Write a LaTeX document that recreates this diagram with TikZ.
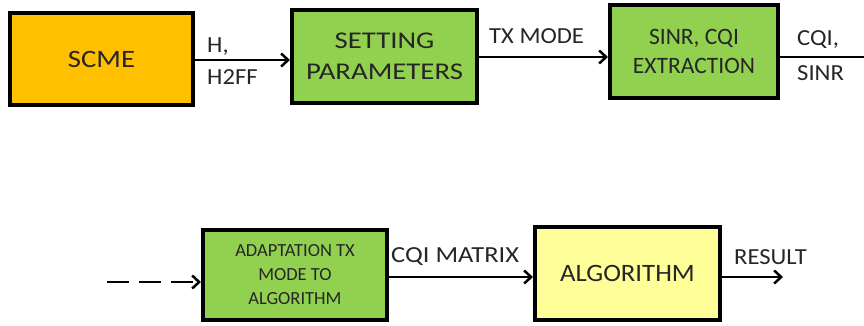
\documentclass[tikz,border=0pt]{standalone}
\usepackage{fontspec}
\setmainfont{Carlito}
\newfontfamily\fA[FakeStretch=1.07]{Carlito}
\newfontfamily\fB[FakeStretch=1.15]{Carlito}
\newfontfamily\fC[FakeStretch=1.2]{Carlito}
\usetikzlibrary{arrows.meta}
\definecolor{orangefill}{HTML}{FFC000}
\definecolor{greenfill}{HTML}{92D050}
\definecolor{yellowfill}{HTML}{FFFF99}
\definecolor{txt}{HTML}{262626}
\begin{document}
\begin{tikzpicture}[x=1pt,y=-1pt,
  blk/.style={draw=black,line width=4pt,inner sep=0pt,align=center,text=txt},
  lbl/.style={inner sep=0pt,text=txt,font=\fA\fontsize{23}{25}\selectfont},
  conn/.style={line width=2.5pt,-{Straight Barb[length=7pt,width=13pt,line width=2.5pt]}}]
\useasboundingbox (0,0) rectangle (864,325);
\node[blk,fill=orangefill,minimum width=183pt,minimum height=92pt,font=\fB\fontsize{25}{28}\selectfont] (scme) at (101.5,59) {SCME};
\node[blk,fill=greenfill,minimum width=185pt,minimum height=93pt,font=\fC\fontsize{24}{31}\selectfont] (set) at (384.5,56.5) {SETTING\\PARAMETERS};
\node[blk,fill=greenfill,minimum width=168pt,minimum height=93pt,font=\fontsize{23.5}{29}\selectfont] (sinr) at (694,51.5) {SINR, CQI\\EXTRACTION};
\node[blk,fill=greenfill,minimum width=184pt,minimum height=90pt,font=\fontsize{18.5}{24}\selectfont] (adapt) at (295,275) {ADAPTATION TX\\MODE TO\\ALGORITHM};
\node[blk,fill=yellowfill,minimum width=185pt,minimum height=93pt,font=\fA\fontsize{25}{28}\selectfont] (alg) at (627.5,273.5) {ALGORITHM};
\coordinate (out1) at (864,57);
\coordinate (din) at (107,282);
\coordinate (res) at (783,277);
\draw[conn] (scme.east |- 0,60) -- (set.west |- 0,60);
\draw[conn] (set.east |- 0,57) -- (sinr.west |- 0,57);
\draw[line width=2.5pt] (sinr.east |- out1) -- (out1);
\draw[conn,dash pattern=on 22pt off 10pt] (din) -- (adapt.west |- din);
\draw[conn] (adapt.east |- 0,277) -- (alg.west |- 0,277);
\draw[conn] (alg.east |- res) -- (res);
\node[lbl,anchor=west] (l1) at (207,46.5) {H,};
\node[lbl,anchor=west] (l2) at (207,77) {H2FF};
\node[lbl,anchor=west] (l3) at (489,36) {TX MODE};
\node[lbl,anchor=west] (l4) at (797,39.5) {CQI,};
\node[lbl,anchor=west] (l5) at (797,73) {SINR};
\node[lbl,anchor=west,font=\fB\fontsize{23}{25}\selectfont] (l6) at (391,257) {CQI MATRIX};
\node[lbl,anchor=west] (l7) at (734,257) {RESULT};
\end{tikzpicture}
\end{document}
